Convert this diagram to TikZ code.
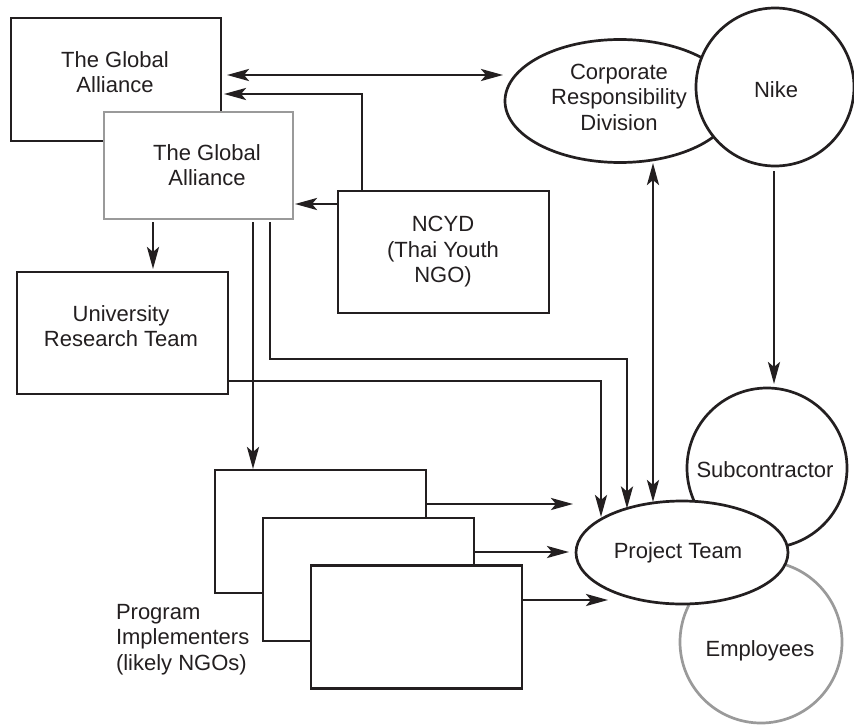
\documentclass[tikz,border=0pt]{standalone}
\usepackage{fontspec}
\setmainfont{Liberation Sans}
\usetikzlibrary{arrows.meta,calc,shapes.geometric}
\definecolor{ink}{HTML}{231F20}
\definecolor{grayline}{HTML}{9A9A9A}
\begin{document}
\begin{tikzpicture}[x=1pt,y=-1pt,
  every node/.style={inner sep=0pt, outer sep=0pt, text=ink},
  txt/.style={font=\fontsize{22}{25.5}\selectfont, align=center},
  box/.style={draw=ink, line width=2.7pt, fill=white, rectangle},
  gbox/.style={draw=grayline, line width=2.7pt, fill=white, rectangle},
  oval/.style={draw=ink, line width=2.7pt, fill=white, ellipse},
  goval/.style={draw=grayline, line width=2.7pt, fill=white, ellipse},
  arr/.style={draw=ink, line width=2.7pt, -{Stealth[length=22pt,width=12pt,inset=5pt]}},
  dbl/.style={draw=ink, line width=2.7pt, {Stealth[length=22pt,width=12pt,inset=5pt]}-{Stealth[length=22pt,width=12pt,inset=5pt]}}]
\useasboundingbox (0,0) rectangle (854,725);
\fill[white] (0,0) rectangle (854,725);

% top-left boxes
\node[box, minimum width=210pt, minimum height=123pt] (ga1) at (116,79.5) {};
\node[txt] (ga1t) at (115,72) {The Global\\Alliance};
\node[gbox, minimum width=189pt, minimum height=107pt] (ga2) at (198.5,165.5) {};
\node[txt] (ga2t) at (207,165) {The Global\\Alliance};

\node[box, minimum width=211pt, minimum height=122pt] (ncyd) at (443.5,252) {};
\node[txt] (ncydt) at (443,252) {NCYD\\(Thai Youth\\NGO)};

\node[box, minimum width=211pt, minimum height=122pt] (univ) at (122.5,333) {};
\node[txt] (univt) at (121,326) {University\\Research Team};

% corporate + nike
\node[oval, minimum width=230pt, minimum height=123pt] (crd) at (620,101) {};
\node[txt] (crdt) at (619,97) {Corporate\\Responsibility\\Division};
\node[oval, minimum width=158pt, minimum height=158pt] (nike) at (775,87) {};
\node[txt, anchor=base] (niket) at (776,97) {Nike};

% subcontractor, employees, project team
\node[oval, minimum width=160pt, minimum height=160pt] (sub) at (767,468) {};
\node[txt, anchor=base] (subt) at (765,477) {Subcontractor};
\node[goval, minimum width=162pt, minimum height=162pt] (emp) at (761,642) {};
\node[txt, anchor=base] (empt) at (760,656) {Employees};
\node[oval, minimum width=212pt, minimum height=103pt] (pt) at (682,552.5) {};
\node[txt, anchor=base] (ptt) at (678,558) {Project Team};

% program implementers
\node[box, minimum width=211pt, minimum height=123pt] (pi1) at (320.5,531.5) {};
\node[box, minimum width=211pt, minimum height=123pt] (pi2) at (368.5,579.5) {};
\node[box, minimum width=211pt, minimum height=123pt] (pi3) at (416.5,627) {};
\node[txt, align=left, anchor=north west] (progt) at (116,604) {Program\\Implementers\\(likely NGOs)};

% connectors
\draw[dbl] ($(ga1.east)+(6,-4.5)$) -- ($(crd.west)+(-2,-26)$);
\draw[arr] ($(ncyd.north)+(-81.5,0)$) |- ($(ga1.east)+(3,14.5)$);
\draw[arr] ($(ncyd.west)+(0,-48)$) -- ($(ga2.east)+(2,38.5)$);

\coordinate (a1) at ($(ga2.south)+(-45.5,3)$);
\draw[arr, shorten >=3pt] (a1) -- (a1 |- univ.north);
\coordinate (a2) at ($(ga2.south)+(54.5,3)$);
\draw[arr, shorten >=1pt] (a2) -- (a2 |- pi1.north);
\coordinate (a3) at ($(ga2.south)+(71.5,3)$);
\coordinate (a3b) at ($(a3)+(0,137)$);
\draw[arr] (a3) -- (a3b) -| ($(pt.center)+(-55,-44)$);

\draw[arr] ($(univ.east)+(0,48)$) -| ($(pt.center)+(-81,-35.5)$);
\draw[dbl] ($(crd.south)+(33,0.5)$) -- ($(pt.north)+(-29,1)$);
\draw[arr] ($(nike.south)+(-1,5)$) -- ($(sub.north)+(7,-4)$);

\draw[arr] ($(pi1.east)+(0,-27.5)$) -- ($(pt.west)+(-3,-48.5)$);
\draw[arr] ($(pi2.east)+(0,-27.5)$) -- ($(pt.west)+(-7,-0.5)$);
\draw[arr] ($(pi3.east)+(0,-27)$) -- ($(pt.west)+(32,47.5)$);
\end{tikzpicture}
\end{document}
